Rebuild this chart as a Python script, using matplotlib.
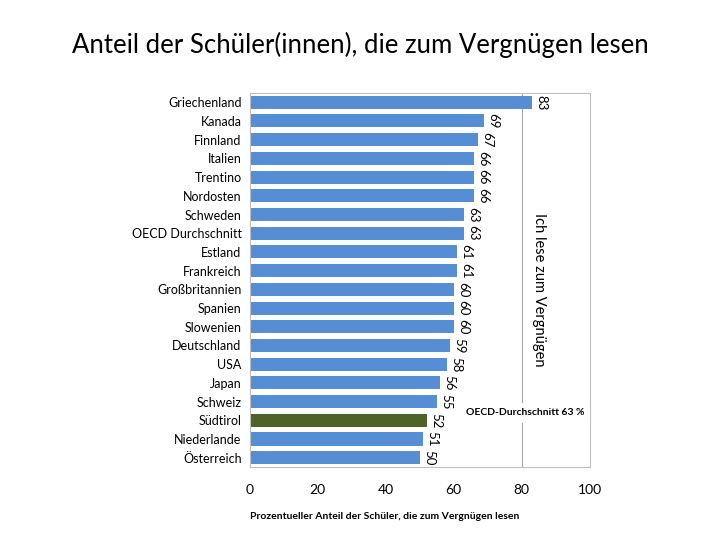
import matplotlib
matplotlib.use("Agg")
import matplotlib.pyplot as plt
import numpy as np

countries = ["Griechenland", "Kanada", "Finnland", "Italien", "Trentino", "Nordosten",
             "Schweden", "OECD Durchschnitt", "Estland", "Frankreich", "Großbritannien",
             "Spanien", "Slowenien", "Deutschland", "USA", "Japan", "Schweiz", "Südtirol",
             "Niederlande", "Österreich"]
values = [83, 69, 67, 66, 66, 66, 63, 63, 61, 61, 60, 60, 60, 59, 58, 56, 55, 52, 51, 50]
highlight = "Südtirol"
xticks = [0, 20, 40, 60, 80, 100]

plt.rcParams['font.family'] = ['Lato', 'DejaVu Sans']

fig = plt.figure(figsize=(7.2, 5.4), dpi=100)
ax = fig.add_axes([0.347, 0.135, 0.472, 0.693])

colors = ['#4F6228' if c == highlight else '#558ED5' for c in countries]
y = np.arange(len(countries))
ax.barh(y, values, height=0.7, color=colors, zorder=2)
ax.set_ylim(len(countries) - 0.5, -0.5)
ax.set_xlim(0, 100)
ax.set_yticks(y)
ax.set_yticklabels(countries, fontsize=9)
ax.set_xticks(xticks)
ax.set_xticklabels([str(t) for t in xticks], fontsize=10)
ax.tick_params(length=0, pad=6)
ax.tick_params(axis='x', pad=12)
for s in ax.spines.values():
    s.set_color('#BFBFBF')
    s.set_linewidth(0.8)

for yi, v in zip(y, values):
    ax.text(v + 1, yi, str(v), rotation=-90, va='center', ha='left', fontsize=9.5)

ax.axvline(80, color='#A6A6A6', linewidth=0.8, zorder=1)
ax.text(85, 10.0, "Ich lese zum Vergnügen", rotation=-90, ha='center', va='center',
        fontsize=10.5, bbox=dict(facecolor='white', edgecolor='none', pad=2), zorder=3)
ax.text(81, 16.6, "OECD-Durchschnitt 63 %", ha='center', va='center', fontsize=7.5,
        fontweight='bold', bbox=dict(facecolor='white', edgecolor='none', pad=4), zorder=3)

ax.set_xlabel("Prozentueller Anteil der Schüler, die zum Vergnügen lesen", fontsize=7.5,
              fontweight='bold', labelpad=12, loc='left')

fig.text(0.5, 0.917, "Anteil der Schüler(innen), die zum Vergnügen lesen", ha='center',
         va='center', fontsize=18.5)

fig.savefig("out.png", dpi=100)
